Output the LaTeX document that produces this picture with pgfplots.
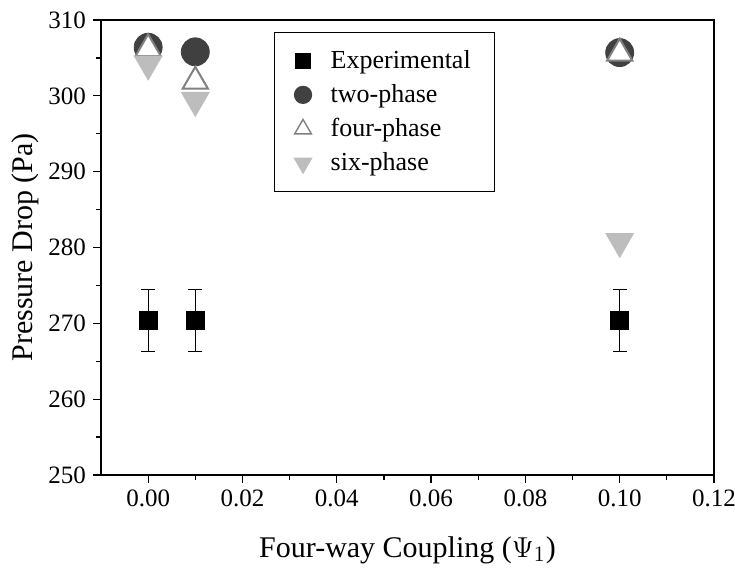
\documentclass[border=0pt]{standalone}
\usepackage{pgfplots}
\pgfplotsset{compat=1.18}
\usetikzlibrary{calc}
\usepackage{fontspec}
\setmainfont{Liberation Serif}

\definecolor{twoph}{HTML}{404040}
\definecolor{fourph}{HTML}{808080}
\definecolor{sixph}{HTML}{BDBDBD}

\begin{document}
\begin{tikzpicture}
\begin{axis}[
  name=main,
  scale only axis,
  width=306.5pt, height=227.5pt,
  xmin=-0.01, xmax=0.12,
  ymin=250, ymax=310,
  xtick={0,0.02,0.04,0.06,0.08,0.10,0.12},
  ytick={250,260,270,280,290,300,310},
  minor x tick num=1,
  minor y tick num=1,
  tick align=outside,
  tick pos=left,
  major tick length=4pt,
  minor tick length=2.5pt,
  axis line style={line width=0.8pt},
  every tick/.style={black, line width=0.6pt},
  scaled x ticks=false,
  /pgf/number format/assume math mode=true,
  xticklabel style={font=\fontsize{12.5}{14}\selectfont,
    /pgf/number format/.cd, fixed, fixed zerofill, precision=2},
  yticklabel style={font=\fontsize{12.5}{14}\selectfont},
  xlabel={Four-way Coupling ($\Psi_{1}$)},
  ylabel={Pressure Drop (Pa)},
  label style={font=\fontsize{15}{18}\selectfont},
  xlabel style={at={(axis description cs:0.5,-0.165)}, anchor=center},
  ylabel style={at={(axis description cs:-0.124,0.5)}, anchor=center},
  legend style={at={(axis description cs:0.282,0.974)}, anchor=north west,
    draw=black, line width=0.5pt, font=\fontsize{13}{15}\selectfont,
    inner xsep=10pt, inner ysep=7pt,
    /tikz/row sep=2.5pt,
    /tikz/every odd column/.append style={column sep=7.5pt}},
  legend cell align=left,
]
% experimental with error bars
\addplot[only marks, mark=square*, mark size=4.5pt, black, forget plot,
  error bars/.cd, y dir=both, y explicit,
  error bar style={black, line width=0.5pt},
  error mark options={rotate=90, mark size=3.5pt, black, line width=0.5pt}]
  coordinates {(0,270.4) +- (0,4.1) (0.01,270.4) +- (0,4.1) (0.1,270.4) +- (0,4.1)};
% two-phase
\addplot[only marks, mark=*, mark size=7pt, mark options={draw=twoph, fill=twoph}, forget plot]
  coordinates {(0,306.4) (0.01,305.8) (0.1,305.7)};
% four-phase
\addplot[only marks, mark=triangle*, mark size=7.3pt,
  mark options={draw=fourph, fill=white, line width=1pt}, forget plot]
  coordinates {(0,306.2) (0.01,301.9) (0.1,305.6)};
% six-phase
\addplot[only marks, mark=triangle*, mark size=8pt,
  mark options={draw=sixph, fill=sixph, rotate=180}, forget plot]
  coordinates {(0,304.2) (0.01,299.4) (0.1,280.8)};

\addlegendimage{only marks, mark=square*, mark size=3.7pt, black}
\addlegendentry{Experimental}
\addlegendimage{only marks, mark=*, mark size=4.3pt, mark options={draw=twoph, fill=twoph}}
\addlegendentry{two-phase}
\addlegendimage{only marks, mark=triangle*, mark size=4.8pt, mark options={draw=fourph, fill=white, line width=0.7pt}}
\addlegendentry{four-phase}
\addlegendimage{only marks, mark=triangle*, mark size=5pt, mark options={draw=sixph, fill=sixph, rotate=180}}
\addlegendentry{six-phase}
\end{axis}
\pgfresetboundingbox
\path[use as bounding box] ($(main.south west)+(-50.5pt,-47.5pt)$) rectangle ($(main.north east)+(10.5pt,10pt)$);
\end{tikzpicture}
\end{document}
